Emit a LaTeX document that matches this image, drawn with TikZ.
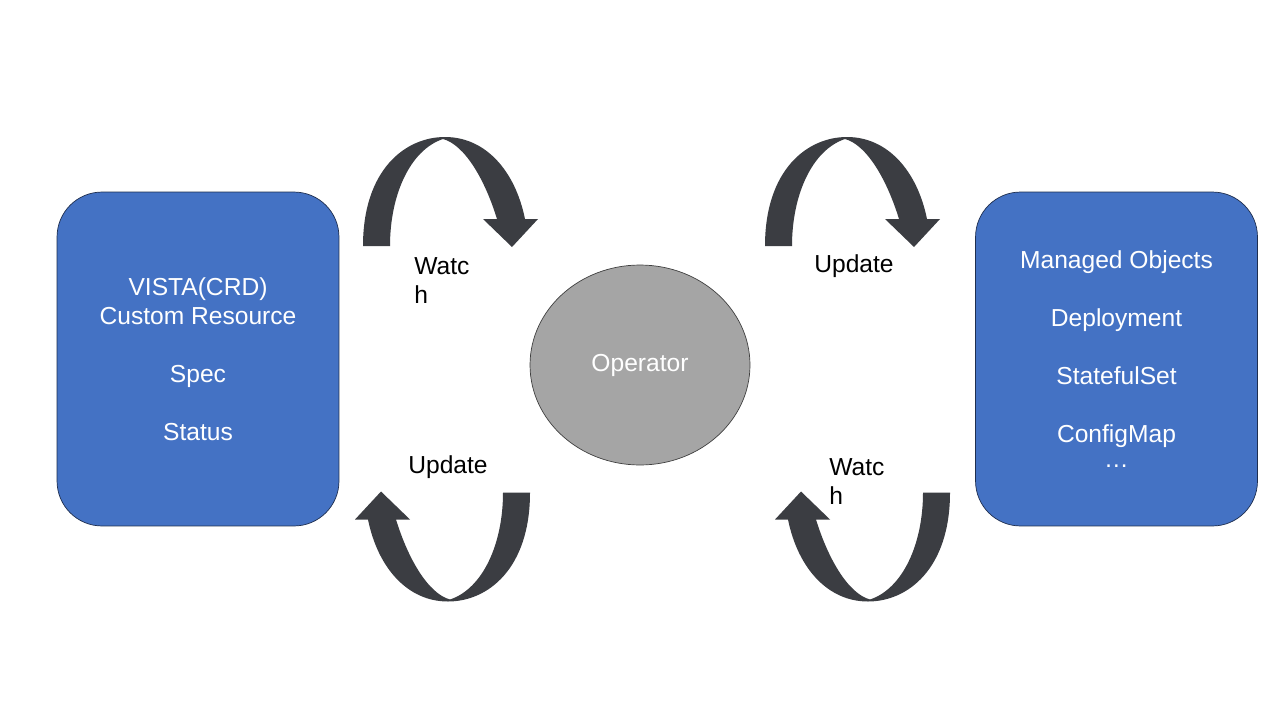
\documentclass[tikz,border=0pt]{standalone}
\usepackage{fontspec}
\setmainfont{Liberation Sans}
\usetikzlibrary{shapes.geometric}

\definecolor{boxblue}{HTML}{4472C4}
\definecolor{boxline}{HTML}{1F2F4F}
\definecolor{opgray}{HTML}{A5A5A5}
\definecolor{arrowgray}{RGB}{59,61,66}

\tikzset{
  txt/.style={font=\fontsize{14pt}{16.5pt}\selectfont},
  crbox/.style={txt, draw=boxline, fill=boxblue, rounded corners=0.9cm,
    minimum width=5.64cm, minimum height=6.68cm, text=white, align=center},
  lbl/.style={txt, align=left, anchor=west, inner sep=0pt},
  bendarrow/.pic={
    \fill[arrowgray] (-87.5,54.5) .. controls (-87.5,-21.5) and (-45.5,-54.5) .. (-5.5,-54.5)
      .. controls (34.5,-54.5) and (64.5,-21.5) .. (74.5,27.5)
      -- (87.5,27.5) -- (61.5,55.5) -- (32.5,27.5) -- (46.5,27.5)
      .. controls (34.5,-11.5) and (14.5,-46.5) .. (-7.5,-52.5)
      .. controls (-40.5,-41.5) and (-60.5,3.5) .. (-60.5,54.5) -- cycle;
  }
}

\begin{document}
\begin{tikzpicture}[x=0.02cm, y=-0.02cm]
  \fill[white] (0,0) rectangle (1280,720);
  \useasboundingbox (0,0) rectangle (1280,720);

  \node[crbox] (crd) at (198,359) {VISTA(CRD)\\Custom Resource\\[16.5pt]Spec\\[16.5pt]Status};
  \node[crbox] (objs) at (1116.5,359) {Managed Objects\\[16.5pt]Deployment\\[16.5pt]StatefulSet\\[16.5pt]ConfigMap\\[-2pt]\dots};
  \node[txt, ellipse, draw=black!75, fill=opgray, text=white,
    minimum width=4.4cm, minimum height=4cm] (op) at (640,365) {Operator};

  % curved arrows
  \pic at (450.5,191.5) {bendarrow};
  \pic at (852.5,191.5) {bendarrow};
  \pic[rotate=180] at (442.5,547) {bendarrow};
  \pic[rotate=180] at (862.5,547) {bendarrow};

  \node[lbl] (watchl) at (414,280.5) {Watc\\h};
  \node[lbl] (updr) at (814,266) {Update};
  \node[lbl] (updl) at (408,467) {Update};
  \node[lbl] (watchr) at (829,481.5) {Watc\\h};
\end{tikzpicture}
\end{document}
